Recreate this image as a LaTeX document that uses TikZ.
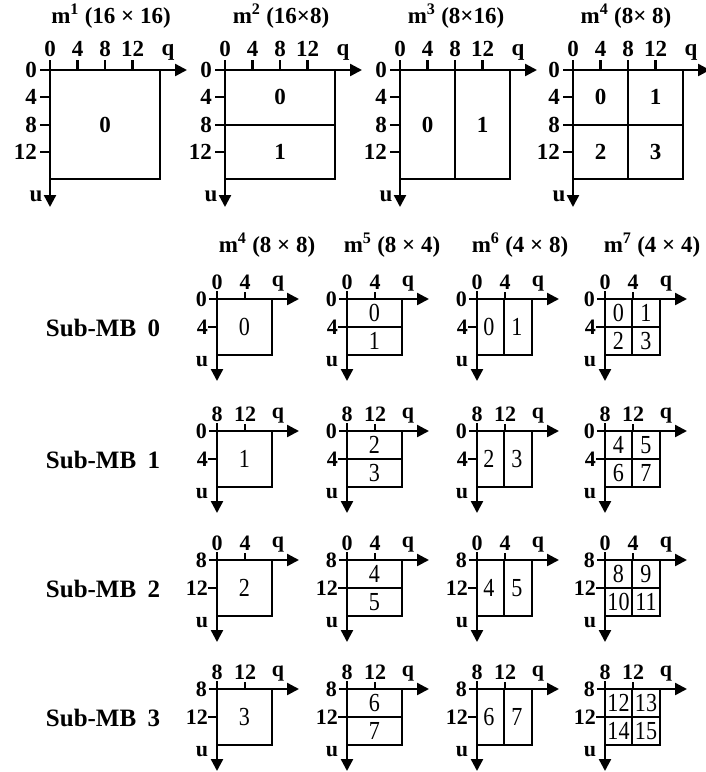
\documentclass[tikz,border=0pt]{standalone}
\usepackage{fontspec}
\setmainfont{Liberation Serif}
\newfontfamily\condf[FakeStretch=0.85]{Liberation Serif}
\usetikzlibrary{arrows.meta}
\tikzset{
  axisline/.style={line width=2.4pt,-{Triangle[length=12pt,width=12pt]}},
  tickline/.style={line width=2.1pt},
  boxline/.style={line width=2pt},
  toplab/.style={font=\fontsize{23}{23}\selectfont\bfseries,inner sep=0pt},
  toptitle/.style={font=\fontsize{23}{23}\selectfont\bfseries,inner sep=0pt},
  topnum/.style={font=\fontsize{23}{23}\selectfont\bfseries,inner sep=0pt},
  botlab/.style={font=\fontsize{22}{22}\selectfont\bfseries,inner sep=0pt},
  bottitle/.style={font=\fontsize{23}{23}\selectfont\bfseries,inner sep=0pt},
  botnum/.style={font=\condf\fontsize{26}{26}\selectfont,inner sep=0pt},
  rowlab/.style={font=\fontsize{25}{25}\selectfont\bfseries,inner sep=0pt},
}
% top-row axes frame
\newcommand\topframe{%
  \draw[boxline] (0,0) rectangle (110,109);
  \draw[axisline] (-10,0) -- (137,0);
  \draw[axisline] (0,-10) -- (0,137);
  \foreach \k in {1,2,3} {\draw[tickline] (27.5*\k,0) -- (27.5*\k,-10);}
  \foreach \k in {1,2,3} {\draw[tickline] (0,27.3*\k) -- (-10,27.3*\k);}
  \foreach \k/\t in {0/0,1/4,2/8,3/12} {\node[toplab] at (27.5*\k,-21) {\t};}
  \node[toplab] at (118,-18) {q};
  \node[toplab,anchor=east] at (-13,0) {0};
  \node[toplab,anchor=east] at (-13,27.3) {4};
  \node[toplab,anchor=east] at (-13,54.6) {8};
  \node[toplab,anchor=east] at (-13,81.9) {12};
  \node[toplab] at (-14,126) {u};
}
% bottom frame: top labels #1 #2, left labels #3 #4
\newcommand\botframe[4]{%
  \draw[boxline] (0,0) rectangle (55,56);
  \draw[axisline] (-8,0) -- (82,0);
  \draw[axisline] (0,-8) -- (0,82);
  \draw[tickline] (28,0) -- (28,-7);
  \draw[tickline] (0,28) -- (-9,28);
  \node[botlab] at (0,-17) {#1};
  \node[botlab] at (28,-17) {#2};
  \node[botlab] at (61,-15) {q};
  \node[botlab,anchor=east] at (-10,0) {#3};
  \node[botlab,anchor=east] at (-9,28) {#4};
  \node[botlab] at (-15,63) {u};
}
\begin{document}
\begin{tikzpicture}[x=1pt,y=-1pt]
\useasboundingbox (0,0) rectangle (705,772);
% ---------- top row ----------
\node[toptitle] (t1) at (111,16) {m\textsuperscript{1} (16 × 16)};
\node[toptitle] (t2) at (281,16) {m\textsuperscript{2} (16×8)};
\node[toptitle] (t3) at (456,16) {m\textsuperscript{3} (8×16)};
\node[toptitle] (t4) at (626,16) {m\textsuperscript{4} (8× 8)};
\begin{scope}[shift={(50,70)}]
  \topframe
  \node[topnum] (a0) at (55,54.5) {0};
\end{scope}
\begin{scope}[shift={(225,70)}]
  \topframe
  \draw[boxline] (0,54.5) -- (110,54.5);
  \node[topnum] (b0) at (55,27) {0};
  \node[topnum] (b1) at (55,82) {1};
\end{scope}
\begin{scope}[shift={(400,70)}]
  \topframe
  \draw[tickline] (55,-10) -- (55,109);
  \node[topnum] (c0) at (27.5,54.5) {0};
  \node[topnum] (c1) at (82.5,54.5) {1};
\end{scope}
\begin{scope}[shift={(573,70)}]
  \topframe
  \draw[tickline] (55,-10) -- (55,109);
  \draw[boxline] (0,54.5) -- (110,54.5);
  \node[topnum] (d0) at (27.5,27) {0};
  \node[topnum] (d1) at (82.5,27) {1};
  \node[topnum] (d2) at (27.5,82) {2};
  \node[topnum] (d3) at (82.5,82) {3};
\end{scope}
% ---------- bottom titles ----------
\node[bottitle] (s4) at (267,245) {m\textsuperscript{4} (8 × 8)};
\node[bottitle] (s5) at (392,245) {m\textsuperscript{5} (8 × 4)};
\node[bottitle] (s6) at (520,245) {m\textsuperscript{6} (4 × 8)};
\node[bottitle] (s7) at (652,245) {m\textsuperscript{7} (4 × 4)};
% ---------- bottom rows ----------
\foreach \r/\ya/\qa/\qb/\ua/\ub in {0/299/0/4/0/4, 1/431/8/12/0/4, 2/560/0/4/8/12, 3/689/8/12/8/12} {
  \node[rowlab] (row\r) at (103,\ya+29) {Sub-MB\hspace{5pt} \r};
  % m4
  \begin{scope}[shift={(217,\ya)}]
    \botframe{\qa}{\qb}{\ua}{\ub}
    \node[botnum] (p\r) at (27.5,28) {\r};
  \end{scope}
  % m5
  \begin{scope}[shift={(347,\ya)}]
    \botframe{\qa}{\qb}{\ua}{\ub}
    \draw[boxline] (0,28) -- (55,28);
    \pgfmathtruncatemacro\na{2*\r}
    \pgfmathtruncatemacro\nb{2*\r+1}
    \node[botnum] at (27.5,14) {\na};
    \node[botnum] at (27.5,42) {\nb};
  \end{scope}
  % m6
  \begin{scope}[shift={(477,\ya)}]
    \botframe{\qa}{\qb}{\ua}{\ub}
    \draw[boxline] (27,0) -- (27,56);
    \pgfmathtruncatemacro\na{2*\r}
    \pgfmathtruncatemacro\nb{2*\r+1}
    \node[botnum] at (12,28) {\na};
    \node[botnum] at (40,28) {\nb};
  \end{scope}
  % m7
  \begin{scope}[shift={(605,\ya)}]
    \botframe{\qa}{\qb}{\ua}{\ub}
    \draw[boxline] (27,0) -- (27,56);
    \draw[boxline] (0,28) -- (55,28);
    \pgfmathtruncatemacro\na{4*\r}
    \pgfmathtruncatemacro\nb{4*\r+1}
    \pgfmathtruncatemacro\nc{4*\r+2}
    \pgfmathtruncatemacro\nd{4*\r+3}
    \node[botnum] at (13.5,14) {\na};
    \node[botnum] at (41,14) {\nb};
    \node[botnum] at (13.5,42) {\nc};
    \node[botnum] at (41,42) {\nd};
  \end{scope}
}
\end{tikzpicture}
\end{document}
